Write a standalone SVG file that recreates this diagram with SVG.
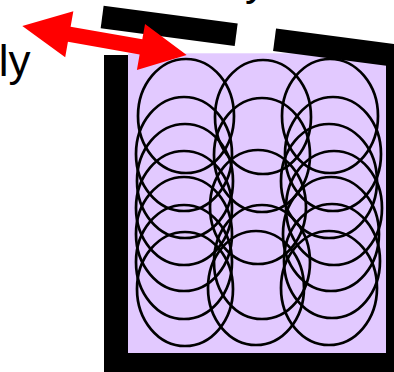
<svg xmlns="http://www.w3.org/2000/svg" width="394" height="372" viewBox="0 0 394 372">
  <style>
    .wall { fill: #000000; }
    .fill { fill: #e2c9ff; }
    .ball { fill: none; stroke: #000000; stroke-width: 2.7; }
    .arrow { fill: #ff0000; }
    .label { font-family: "Liberation Sans", Arial, sans-serif; font-size: 44px; fill: #000000; }
  </style>
  <g id="container">
    <rect class="fill" x="128" y="53.3" width="258" height="300"/>
  </g>
  <g id="spheres">
    <ellipse class="ball" cx="186" cy="116" rx="48" ry="57"/>
    <ellipse class="ball" cx="184" cy="154" rx="48" ry="57"/>
    <ellipse class="ball" cx="185" cy="181" rx="48" ry="57"/>
    <ellipse class="ball" cx="184" cy="208" rx="48" ry="57"/>
    <ellipse class="ball" cx="184" cy="234" rx="48" ry="57"/>
    <ellipse class="ball" cx="184" cy="262" rx="48" ry="57"/>
    <ellipse class="ball" cx="185" cy="289" rx="48" ry="57"/>
    <ellipse class="ball" cx="263" cy="117" rx="48" ry="57"/>
    <ellipse class="ball" cx="262" cy="155" rx="48" ry="57"/>
    <ellipse class="ball" cx="258" cy="207" rx="48" ry="57"/>
    <ellipse class="ball" cx="262" cy="262" rx="48" ry="57"/>
    <ellipse class="ball" cx="256" cy="288" rx="48" ry="57"/>
    <ellipse class="ball" cx="330" cy="116" rx="48" ry="57"/>
    <ellipse class="ball" cx="333" cy="154" rx="48" ry="57"/>
    <ellipse class="ball" cx="329" cy="181" rx="48" ry="57"/>
    <ellipse class="ball" cx="334" cy="208" rx="48" ry="57"/>
    <ellipse class="ball" cx="331" cy="234" rx="48" ry="57"/>
    <ellipse class="ball" cx="332" cy="261" rx="48" ry="57"/>
    <ellipse class="ball" cx="329" cy="288" rx="48" ry="57"/>
  </g>
  <g id="walls">
    <rect class="wall" x="104" y="55" width="24" height="317"/>
    <rect class="wall" x="104" y="353" width="290" height="19"/>
    <rect class="wall" x="386" y="50" width="8" height="303"/>
  </g>
  <g id="lid" transform="translate(102.15,17) rotate(7.5)">
    <rect class="wall" x="0" y="-11.35" width="135.2" height="22.7"/>
    <rect class="wall" x="173.9" y="-11.35" width="250" height="22.7"/>
  </g>
  <g id="connectors">
    <polygon class="arrow" transform="translate(22.3,26) rotate(10)" points="0,0 47.7,-23.4 47.7,-7.7 120.5,-7.7 120.5,-23.4 166.9,0 120.5,23.4 120.5,7.7 47.7,7.7 47.7,23.4"/>
  </g>
  <g id="labels">
    <text class="label" x="30.5" y="76" text-anchor="end">ly</text>
    <text class="label" x="245" y="-5.3">y</text>
  </g>
</svg>
